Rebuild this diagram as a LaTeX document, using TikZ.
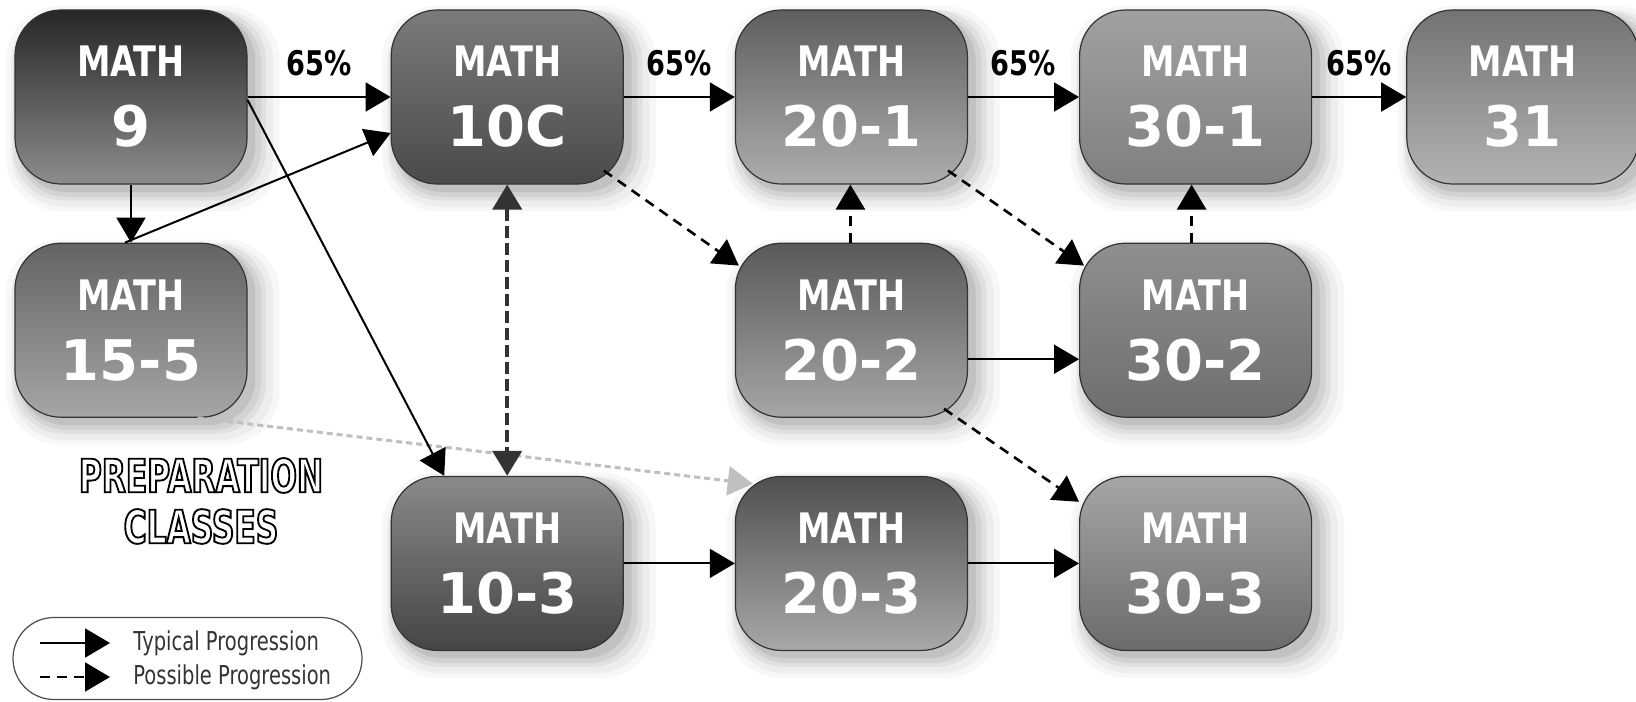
\documentclass[tikz,border=0pt]{standalone}
\usepackage{fontspec}
\usetikzlibrary{arrows.meta,positioning,shadows}
\newfontfamily\crsbold[FakeStretch=0.8]{DejaVu Sans Bold}
\newfontfamily\numfont{DejaVu Sans Bold}
\newfontfamily\narrowfont[FakeStretch=0.75]{DejaVu Sans}
\newfontfamily\prepfont[FakeStretch=0.68, FakeBold=4]{DejaVu Sans Bold}
\newcommand{\mathlbl}{{\crsbold\fontsize{21pt}{21pt}\selectfont MATH}}
\newcommand{\inkline}{\special{pdf:literal direct 0 0 0 RG}}

\begin{document}
\begin{tikzpicture}[>={Triangle[length=12.5pt,width=14.5pt]},
  crs/.style 2 args={draw=black!80, line width=0.6pt, rounded corners=23pt,
    minimum width=116pt, minimum height=87pt, inner sep=0pt, align=center,
    text=white, top color=#1, bottom color=#2,
    font=\numfont\fontsize{28pt}{35pt}\selectfont,
    drop shadow={shadow xshift=5pt, shadow yshift=-5pt, shadow scale=1.18, opacity=.03, fill=black},
    drop shadow={shadow xshift=5pt, shadow yshift=-5pt, shadow scale=1.13, opacity=.04, fill=black},
    drop shadow={shadow xshift=4pt, shadow yshift=-4pt, shadow scale=1.09, opacity=.05, fill=black},
    drop shadow={shadow xshift=4pt, shadow yshift=-4pt, shadow scale=1.05, opacity=.06, fill=black},
    drop shadow={shadow xshift=3pt, shadow yshift=-3pt, shadow scale=1.02, opacity=.08, fill=black}},
  pct/.style={font=\crsbold\fontsize{17pt}{17pt}\selectfont, above=10pt, inner sep=0pt},
  flow/.style={->, line width=1pt},
  maybe/.style={->, line width=1.3pt, dash pattern=on 5pt off 3.5pt},
  note/.style={font=\narrowfont\fontsize{13pt}{13pt}\selectfont, text=black!80, anchor=west, inner sep=0pt}]
\path[fill=white, use as bounding box] (0pt,0pt) rectangle (818pt,-350.5pt);
\node[crs={black!85}{black!45}] (m9) at (65.5pt,-48.5pt) {\mathlbl\\9};
\node[crs={black!52}{black!71}, right=71.5pt of m9] (m10c) {\mathlbl\\10C};
\node[crs={black!63}{black!32}, right=55.5pt of m10c] (m201) {\mathlbl\\20-1};
\node[crs={black!37}{black!50}, right=55.5pt of m201] (m301) {\mathlbl\\30-1};
\node[crs={black!55}{black!30}, right=47pt of m301] (m31) {\mathlbl\\31};
\node[crs={black!61}{black!35}, below=29pt of m9] (m155) {\mathlbl\\15-5};
\node[crs={black!65}{black!35}, below=29pt of m201] (m202) {\mathlbl\\20-2};
\node[crs={black!44}{black!57}, below=29pt of m301] (m302) {\mathlbl\\30-2};
\node[crs={black!69}{black!34}, below=29pt of m202] (m203) {\mathlbl\\20-3};
\node[crs={black!35}{black!58}, below=29pt of m302] (m303) {\mathlbl\\30-3};
\node[crs={black!46}{black!73}, left=55.5pt of m203] (m103) {\mathlbl\\10-3};
\node[font=\prepfont\fontsize{23pt}{25.5pt}\selectfont, text=white, align=center, inner sep=0pt] (prep) at (100.5pt,-250.5pt) {\inkline PREPARATION\\\inkline CLASSES};
\node[draw=black!70, line width=0.6pt, fill=white, rounded corners=20.5pt, minimum width=174.5pt, minimum height=41pt] (key) at (93.75pt,-329.25pt) {};
\node[note] (typ) at (66.5pt,-321.5pt) {Typical Progression};
\node[note] (pos) at (66.5pt,-338.5pt) {Possible Progression};
\coordinate (k1) at (20pt,-321.5pt);
\coordinate (k2) at (20pt,-338.5pt);
\draw[->, draw=black!25, line width=1.5pt, dash pattern=on 3pt off 2pt] ([xshift=-25pt]m155.south east) -- ([xshift=9pt,yshift=-4pt]m203.north west);
\draw[flow] (m9) -- node[pct]{65\%} (m10c);
\draw[flow] (m10c) -- node[pct]{65\%} (m201);
\draw[flow] (m201) -- node[pct]{65\%} (m301);
\draw[flow] (m301) -- node[pct]{65\%} (m31);
\draw[flow] (m9) -- (m155);
\draw[flow] ([xshift=-3pt]m155.north) -- ([yshift=-18pt]m10c.west);
\draw[flow] ([yshift=-1.5pt]m9.east) -- ([xshift=-31.5pt]m103.north);
\draw[flow] ([yshift=-14.5pt]m202.east) -- ([yshift=-14.5pt]m302.west);
\draw[flow] (m103) -- (m203);
\draw[flow] (m203) -- (m303);
\draw[maybe] ([xshift=-10pt,yshift=7pt]m10c.south east) -- ([xshift=2pt,yshift=-11.5pt]m202.north west);
\draw[maybe] ([xshift=-10pt,yshift=7pt]m201.south east) -- ([xshift=2.5pt,yshift=-11.5pt]m302.north west);
\draw[maybe] ([xshift=-12pt,yshift=4.5pt]m202.south east) -- ([yshift=-13pt]m303.north west);
\draw[maybe, line width=1.6pt] ([xshift=-0.5pt]m202.north) -- ([xshift=-0.5pt]m201.south);
\draw[maybe, line width=1.6pt] ([xshift=-2pt]m302.north) -- ([xshift=-2pt]m301.south);
\draw[<->, line width=2.2pt, draw=black!80, dash pattern=on 6pt off 2.5pt] (m10c) -- (m103);
\draw[flow] (k1) -- ([xshift=-11.5pt]typ.west);
\draw[maybe, line width=1pt] (k2) -- ([xshift=-11.5pt]pos.west);
\end{tikzpicture}
\end{document}
